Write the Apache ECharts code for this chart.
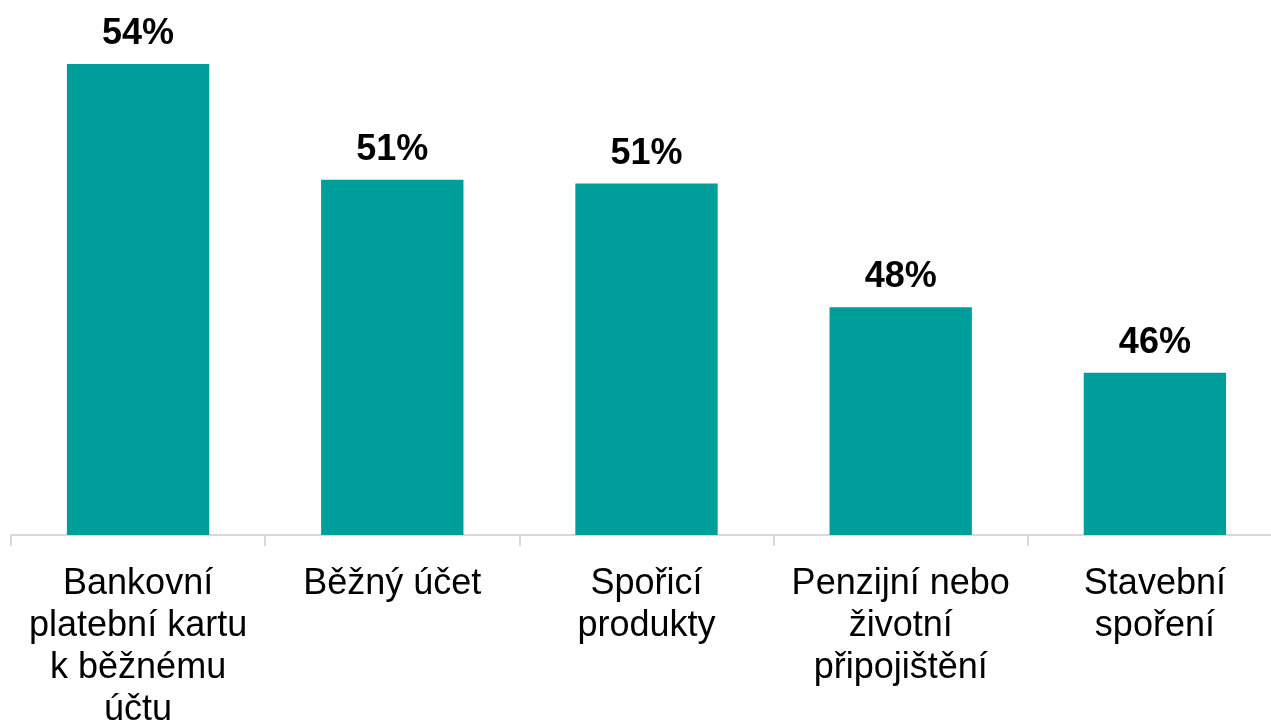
<!DOCTYPE html>
<html>
<head>
<meta charset="utf-8">
<script src="https://cdn.jsdelivr.net/npm/echarts@6/dist/echarts.min.js"></script>
<style>html,body{margin:0;padding:0;background:#fff;}#w{width:1271px;height:723px;overflow:hidden;position:relative;}#c{position:absolute;left:0;top:0;width:1282px;height:723px;}</style>
</head>
<body>
<div id="w"><div id="c"></div></div>
<script>
const categories = ["Bankovní\nplatební kartu\nk běžnému\núčtu", "Běžný účet", "Spořicí\nprodukty", "Penzijní nebo\nživotní\npřipojištění", "Stavební\nspoření"];
const values = [54.2, 51.2, 51.1, 47.9, 46.2];

const chart = echarts.init(document.getElementById('c'));
chart.setOption({
  animation: false,
  grid: { left: 11, top: 33, right: 0, bottom: 188, containLabel: false, outerBoundsMode: 'none' },
  xAxis: {
    type: 'category',
    data: categories,
    axisLine: { lineStyle: { color: '#d9d9d9', width: 2 } },
    axisTick: { show: true, length: 11, lineStyle: { color: '#d9d9d9', width: 2 } },
    axisLabel: { color: '#000', fontFamily: 'Liberation Sans, Arial, sans-serif', fontSize: 36, lineHeight: 42, margin: 28, interval: 0 }
  },
  yAxis: { type: 'value', min: 42, max: 55, show: false, splitLine: { show: false } },
  series: [{
    type: 'bar',
    data: values,
    barWidth: '56%',
    itemStyle: { color: '#009e9a' },
    label: {
      show: true, position: 'top', distance: 12,
      color: '#000', fontFamily: 'Liberation Sans, Arial, sans-serif', fontWeight: 'bold', fontSize: 36,
      formatter: p => Math.round(p.value) + '%'
    }
  }]
});
</script>
</body>
</html>
